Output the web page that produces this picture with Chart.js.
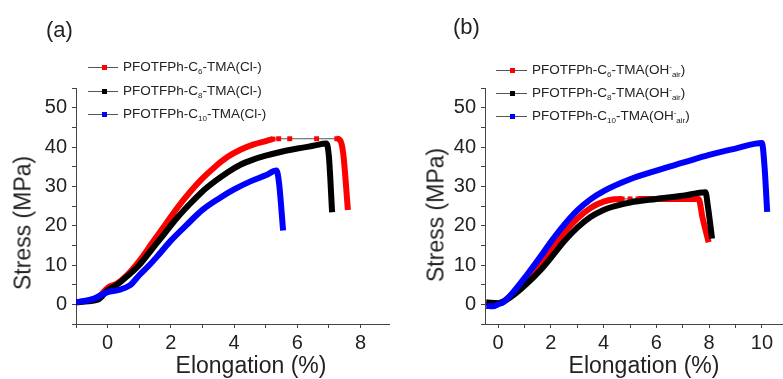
<!DOCTYPE html>
<html><head><meta charset="utf-8">
<script src="https://cdn.jsdelivr.net/npm/chart.js@4.4.1/dist/chart.umd.min.js"></script>
<style>
html,body{margin:0;padding:0;background:#fff;}
body{width:783px;height:379px;position:relative;overflow:hidden;font-family:"Liberation Sans",Arial,sans-serif;color:#222;}
.abs{position:absolute;white-space:nowrap;line-height:1;}
#wa{position:absolute;left:0;top:0;width:390px;height:379px;}
#wb{position:absolute;left:390px;top:0;width:393px;height:379px;}
.panel{font-size:22px;}
.xt{font-size:23px;transform:translateX(-50%);}
.yt{font-size:23px;transform:translate(-50%,-50%) rotate(-90deg);}
.leg{font-size:13.5px;}
.leg sub{font-size:8px;vertical-align:-3px;line-height:0;}
.leg sup{font-size:8px;vertical-align:5px;line-height:0;}
.ll{position:absolute;height:1px;background:#555;}
.mk{position:absolute;width:5px;height:5px;}
</style>
</head><body>
<div id="wa"><canvas id="ca" width="390" height="379"></canvas></div>
<div id="wb"><canvas id="cb" width="393" height="379"></canvas></div>

<div class="abs panel" style="left:46px;top:19px;">(a)</div>
<div class="abs panel" style="left:453px;top:16px;">(b)</div>

<div class="abs xt" style="left:251px;top:354px;">Elongation (%)</div>
<div class="abs xt" style="left:644px;top:354px;">Elongation (%)</div>
<div class="abs yt" style="left:23px;top:223px;">Stress (MPa)</div>
<div class="abs yt" style="left:436px;top:215px;">Stress (MPa)</div>

<div id="legends"></div>

<script>
// ---------- Panel (a): Cl- form ----------
const a_C6_x  = [-1.0, -0.6, -0.3, 0.0, 0.3, 0.6, 1.0, 1.4, 1.8, 2.2, 2.6, 3.0, 3.4, 3.8, 4.2, 4.6, 5.0, 5.23, 5.41, 5.76, 6.61, 7.25, 7.35, 7.45, 7.6];
const a_C6_y  = [0.5, 1.0, 1.8, 4.2, 5.3, 7.3, 11.0, 15.5, 20.0, 24.5, 28.5, 32.0, 35.0, 37.5, 39.3, 40.6, 41.5, 42.0, 42.1, 42.1, 42.1, 42.1, 41.8, 38.5, 24.0];
const a_C8_x  = [-1.0, -0.6, -0.3, 0.0, 0.3, 0.6, 1.0, 1.4, 1.8, 2.2, 2.6, 3.0, 3.4, 3.8, 4.2, 4.6, 5.0, 5.5, 6.0, 6.5, 6.92, 7.0, 7.1];
const a_C8_y  = [0.5, 0.8, 1.2, 3.6, 5.0, 7.0, 10.0, 14.0, 18.0, 22.0, 25.5, 28.7, 31.3, 33.6, 35.5, 36.8, 37.8, 38.8, 39.6, 40.3, 40.9, 37.5, 23.4];
const a_C10_x = [-1.0, -0.45, 0.0, 0.33, 0.7, 1.0, 1.3, 1.55, 2.0, 2.5, 3.0, 3.5, 4.0, 4.5, 5.0, 5.34, 5.42, 5.55];
const a_C10_y = [0.5, 1.4, 3.1, 3.6, 4.8, 7.4, 9.8, 12.0, 16.2, 20.2, 24.0, 26.8, 29.2, 31.2, 32.8, 34.0, 31.0, 18.8];

// ---------- Panel (b): OH- (air) form ----------
const b_C6_x  = [-0.45, 0.0, 0.57, 1.08, 1.59, 2.0, 2.5, 3.0, 3.5, 4.0, 4.4, 4.7, 5.0, 5.3, 5.5, 6.5, 7.6, 7.75, 7.98];
const b_C6_y  = [0.3, 0.3, 2.8, 6.2, 10.3, 14.0, 18.2, 21.8, 24.5, 26.1, 26.7, 26.8, 26.8, 26.8, 26.8, 26.8, 26.8, 22.0, 15.8];
const b_C8_x  = [-0.45, 0.0, 0.57, 1.08, 1.59, 2.08, 2.5, 3.0, 3.5, 4.0, 4.5, 5.0, 6.0, 7.0, 7.86, 7.95, 8.11];
const b_C8_y  = [0.5, 0.3, 2.3, 5.2, 8.6, 12.5, 16.0, 19.5, 22.2, 24.0, 25.1, 25.9, 26.8, 27.6, 28.5, 25.0, 16.7];
const b_C10_x = [-0.45, -0.2, 0.0, 0.2, 0.57, 1.08, 1.59, 2.0, 2.5, 3.0, 3.5, 4.0, 5.0, 6.0, 7.0, 8.0, 9.0, 10.0, 10.1, 10.2];
const b_C10_y = [-0.4, -0.5, 0.0, 0.6, 3.1, 7.4, 12.0, 15.9, 20.2, 23.9, 26.7, 28.8, 31.8, 34.0, 36.0, 38.0, 39.6, 41.0, 35.0, 23.5];

const a_labels = ['PFOTFPh-C<sub>6</sub>-TMA(Cl-)', 'PFOTFPh-C<sub>8</sub>-TMA(Cl-)', 'PFOTFPh-C<sub>10</sub>-TMA(Cl-)'];
const b_labels = ['PFOTFPh-C<sub>6</sub>-TMA(OH<sup>-</sup><sub>air</sub>)', 'PFOTFPh-C<sub>8</sub>-TMA(OH<sup>-</sup><sub>air</sub>)', 'PFOTFPh-C<sub>10</sub>-TMA(OH<sup>-</sup><sub>air</sub>)'];

const RED = '#ff0000', BLACK = '#000000', BLUE = '#0000ff';
const FONT = 'Liberation Sans';

function pts(xs, ys) { return xs.map((x, i) => ({x: x, y: ys[i]})); }

function ds(label, xs, ys, color, order, sparse) {
  const inS = x => !!sparse && x !== undefined && x >= sparse[0] && x <= sparse[1];
  return {
    label: label, data: pts(xs, ys), order: order,
    borderColor: color, borderWidth: 6, borderCapStyle: 'butt', borderJoinStyle: 'miter',
    cubicInterpolationMode: 'monotone',
    pointStyle: 'rect',
    pointRadius: ctx => (ctx.raw && inS(ctx.raw.x)) ? 3.5 : 0,
    pointHoverRadius: 0, pointBorderWidth: 0, pointBackgroundColor: color,
    segment: {
      borderWidth: ctx => (inS(ctx.p0.parsed.x) && inS(ctx.p1.parsed.x)) ? 1 : undefined,
      borderColor: ctx => (inS(ctx.p0.parsed.x) && inS(ctx.p1.parsed.x)) ? '#555' : undefined
    }
  };
}

function intTicks(s, step) {
  const out = [];
  for (let v = Math.ceil(s.min / step) * step; v <= s.max + 1e-9; v += step) out.push({value: v});
  s.ticks = out;
}

function scales(xmin, xmax, yw) {
  const tickFont = {size: 20, family: FONT};
  return {
    x: {
      type: 'linear', min: xmin, max: xmax,
      afterBuildTicks: s => intTicks(s, 1),
      afterFit: s => { s.height = 55; },
      ticks: {autoSkip: false, maxRotation: 0, color: '#222', font: tickFont, padding: 3,
              callback: v => (Number.isInteger(v) && v % 2 === 0) ? String(v) : ''},
      grid: {drawOnChartArea: false, drawTicks: true, tickLength: 4, color: '#444', lineWidth: 1},
      border: {display: true, color: '#444', width: 1}
    },
    y: {
      type: 'linear', min: -5, max: 55,
      afterBuildTicks: s => intTicks(s, 5),
      afterFit: s => { s.width = yw; },
      ticks: {autoSkip: false, color: '#222', font: tickFont, padding: 5,
              callback: v => (v % 10 === 0) ? String(v) : ''},
      grid: {drawOnChartArea: false, drawTicks: true, tickLength: 4, color: '#444', lineWidth: 1},
      border: {display: true, color: '#444', width: 1}
    }
  };
}

function opts(xmin, xmax, yw, padRight) {
  return {
    responsive: false, animation: false, devicePixelRatio: 1,
    layout: {padding: {top: 88, right: padRight, left: 0, bottom: 0}},
    plugins: {legend: {display: false}, tooltip: {enabled: false}},
    events: [],
    scales: scales(xmin, xmax, yw)
  };
}

new Chart(document.getElementById('ca'), {
  type: 'line',
  data: {datasets: [
    ds('C6', a_C6_x, a_C6_y, RED, 2, [5.2, 7.3]),
    ds('C8', a_C8_x, a_C8_y, BLACK, 1, null),
    ds('C10', a_C10_x, a_C10_y, BLUE, 0, null)
  ]},
  options: opts(-1, 8.9, 76, 1)
});

new Chart(document.getElementById('cb'), {
  type: 'line',
  data: {datasets: [
    ds('C6', b_C6_x, b_C6_y, RED, 2, [4.6, 5.4]),
    ds('C8', b_C8_x, b_C8_y, BLACK, 1, null),
    ds('C10', b_C10_x, b_C10_y, BLUE, 0, null)
  ]},
  options: opts(-0.5, 10.8, 95, 0)
});

// ---------- HTML legends ----------
function legend(labels, colors, ys, lx1, lx2, mx, tx) {
  let h = '';
  labels.forEach((lab, i) => {
    const y = ys[i];
    h += `<div class="ll" style="left:${lx1}px;width:${lx2 - lx1}px;top:${y}px;"></div>`;
    h += `<div class="mk" style="left:${mx - 2.5}px;top:${y - 2}px;background:${colors[i]};"></div>`;
    h += `<div class="abs leg" style="left:${tx}px;top:${y - 6.6}px;">${lab}</div>`;
  });
  return h;
}
document.getElementById('legends').innerHTML =
  legend(a_labels, [RED, BLACK, BLUE], [67, 91, 114], 88, 118, 104, 123) +
  legend(b_labels, [RED, BLACK, BLUE], [70, 93, 116], 496, 527, 512, 532);
</script>
</body></html>
